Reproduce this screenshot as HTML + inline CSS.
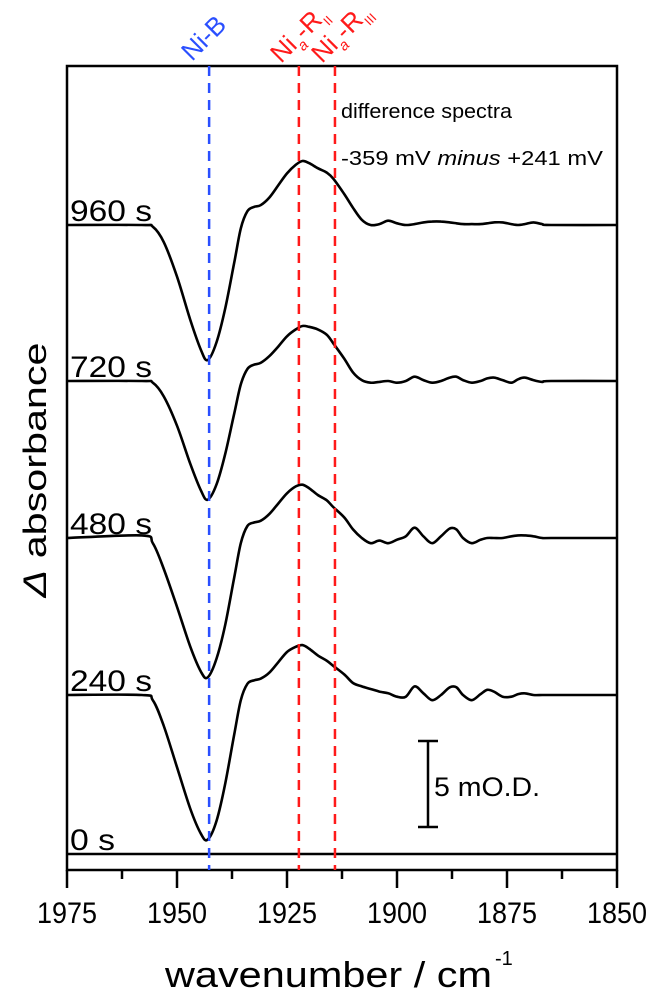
<!DOCTYPE html>
<html><head><meta charset="utf-8"><style>
body{margin:0;background:#fff}
svg{display:block;font-family:"Liberation Sans",sans-serif}
</style></head><body>
<svg id="c" width="655" height="997" viewBox="0 0 655 997">
<rect x="67" y="66" width="550" height="804" fill="none" stroke="#000" stroke-width="2.5"/>
<g id="marks"></g>
<g id="axes"></g>
<text x="70" y="221" font-size="30" textLength="82" lengthAdjust="spacingAndGlyphs">960 s</text>
<text x="70" y="377" font-size="30" textLength="82" lengthAdjust="spacingAndGlyphs">720 s</text>
<text x="70" y="534" font-size="30" textLength="82" lengthAdjust="spacingAndGlyphs">480 s</text>
<text x="70" y="691" font-size="30" textLength="82" lengthAdjust="spacingAndGlyphs">240 s</text>
<text x="70" y="850" font-size="30" textLength="45" lengthAdjust="spacingAndGlyphs">0 s</text>
<text x="341" y="118" font-size="20" textLength="171" lengthAdjust="spacingAndGlyphs">difference spectra</text>
<text x="341" y="165" font-size="20" textLength="262" lengthAdjust="spacingAndGlyphs">-359 mV <tspan font-style="italic">minus</tspan> +241 mV</text>
<g>
<line x1="428" y1="741" x2="428" y2="827" stroke="#000" stroke-width="2.5"/>
<line x1="418" y1="741" x2="438" y2="741" stroke="#000" stroke-width="2.5"/>
<line x1="418" y1="827" x2="438" y2="827" stroke="#000" stroke-width="2.5"/>
<text x="434" y="796" font-size="27" textLength="106" lengthAdjust="spacingAndGlyphs">5 mO.D.</text>
</g>
<text transform="translate(192,62) rotate(-45)" font-size="26" fill="#2a4fff">Ni-B</text>
<text transform="translate(281,64) rotate(-45)" font-size="26" fill="#ff1a1a">Ni<tspan font-size="15" dy="7" font-style="italic">a</tspan><tspan dy="-7">-R</tspan><tspan font-size="13" dy="7">II</tspan></text>
<text transform="translate(322,64) rotate(-45)" font-size="26" fill="#ff1a1a">Ni<tspan font-size="15" dy="7" font-style="italic">a</tspan><tspan dy="-7">-R</tspan><tspan font-size="13" dy="7">III</tspan></text>
<text transform="translate(46,470) rotate(-90)" text-anchor="middle" font-size="32" textLength="255" lengthAdjust="spacingAndGlyphs"><tspan font-style="italic">Δ</tspan> absorbance</text>
<text x="165" y="987" font-size="36" textLength="327" lengthAdjust="spacingAndGlyphs">wavenumber / cm</text>
<text x="495" y="965" font-size="20">-1</text>
</svg>
<script>
const wn = [1975,1958,1955.5,1953,1950,1947,1944.5,1943,1941,1939,1937,1935.5,1934,1932.5,1931,1929,1927,1925,1923,1921.5,1920,1918,1916,1914.5,1912,1910,1908,1906,1904,1902,1900,1898,1896,1894,1892,1890,1888,1886.5,1885,1883,1881,1879.5,1878,1876,1874,1872.5,1871,1869,1867,1865,1850];
const s960 = [0,0,-0.1,-1.0,-3.0,-5.5,-7.3,-7.85,-6.8,-4.8,-2.2,-0.2,0.8,1.05,1.15,1.6,2.3,3.0,3.5,3.72,3.6,3.3,3.05,2.7,1.8,1.0,0.3,0,0.05,0.25,0.1,0,0.05,0.15,0.2,0.2,0.15,0.1,0.05,0.05,0.05,0.1,0.15,0.15,0.05,0,0.05,0.15,0.05,0,0];
const s720 = [0,0,-0.1,-0.9,-2.6,-4.8,-6.4,-6.9,-6.0,-4.2,-1.9,-0.2,0.7,0.95,1.05,1.45,2.0,2.6,3.0,3.2,3.15,3.0,2.7,2.2,1.3,0.5,0.05,-0.1,-0.05,0,-0.1,0,0.25,0.05,-0.1,0,0.2,0.25,0.05,-0.1,0,0.15,0.2,0.05,-0.1,0.1,0.2,0.05,-0.05,0,0];
const s480 = [0,0.15,-0.3,-1.8,-4.0,-6.3,-7.8,-8.1,-7.0,-5.0,-2.3,-0.3,0.7,0.9,1.0,1.4,2.0,2.6,3.0,3.1,2.9,2.5,2.2,1.8,1.2,0.5,0,-0.3,-0.15,-0.3,-0.1,0.1,0.6,0.1,-0.3,0.1,0.55,0.5,0,-0.3,-0.1,0,0,0,0.1,0.15,0.15,0.1,0,0,0];
const s240 = [0,0,-0.3,-1.8,-4.2,-6.6,-8.1,-8.4,-7.3,-5.1,-2.3,-0.3,0.65,0.85,0.95,1.3,1.9,2.5,2.8,2.9,2.7,2.3,2.0,1.7,1.2,0.7,0.5,0.35,0.2,0.1,-0.1,-0.1,0.5,0.1,-0.3,0,0.45,0.45,0,-0.3,0.05,0.3,0.2,-0.1,-0.1,0.05,0.1,0,0,0,0];
const s0 = wn.map(()=>0);
const series = [s960, s720, s480, s240, s0];
const seriesNames = ['960s','720s','480s','240s','0s'];
const baselines = [225, 381, 538, 695, 854];
const markers = [1942.7, 1922.3, 1914.1];
const markerColors = ['#2a4fff','#ff1a1a','#ff1a1a'];
const xTicks = [1975,1950,1925,1900,1875,1850];
const xMinor = [1962.5,1937.5,1912.5,1887.5,1862.5];

const X = v => 67 + (1975 - v) * 550 / 125;
const PX_PER_MOD = 17.2;
const NS = 'http://www.w3.org/2000/svg';
const marks = document.getElementById('marks');
const axes = document.getElementById('axes');

function smoothPath(pts){
  let d = 'M' + pts[0][0] + ',' + pts[0][1];
  for (let i=0;i<pts.length-1;i++){
    const p0=pts[Math.max(i-1,0)],p1=pts[i],p2=pts[i+1],p3=pts[Math.min(i+2,pts.length-1)];
    const c1x=p1[0]+(p2[0]-p0[0])/6,c1y=p1[1]+(p2[1]-p0[1])/6;
    const c2x=p2[0]-(p3[0]-p1[0])/6,c2y=p2[1]-(p3[1]-p1[1])/6;
    d+=' C'+c1x.toFixed(1)+','+c1y.toFixed(1)+' '+c2x.toFixed(1)+','+c2y.toFixed(1)+' '+p2[0].toFixed(1)+','+p2[1].toFixed(1);
  }
  return d;
}

series.forEach((s, k) => {
  const pts = wn.map((w,i)=>[X(w), baselines[k] - s[i]*PX_PER_MOD]);
  const p = document.createElementNS(NS,'path');
  p.setAttribute('d', smoothPath(pts));
  p.setAttribute('fill','none');
  p.setAttribute('stroke','#000');
  p.setAttribute('stroke-width','2.6');
  
  
  marks.appendChild(p);
});

markers.forEach((m,i)=>{
  const l = document.createElementNS(NS,'line');
  l.setAttribute('x1',X(m)); l.setAttribute('x2',X(m));
  l.setAttribute('y1',66); l.setAttribute('y2',870);
  l.setAttribute('stroke',markerColors[i]);
  l.setAttribute('stroke-width','2.5');
  l.setAttribute('stroke-dasharray','10,7');
  
  
  marks.appendChild(l);
});

xTicks.forEach(t=>{
  const l = document.createElementNS(NS,'line');
  l.setAttribute('x1',X(t)); l.setAttribute('x2',X(t));
  l.setAttribute('y1',870); l.setAttribute('y2',888);
  l.setAttribute('stroke','#000'); l.setAttribute('stroke-width','2.5');
  
  
  axes.appendChild(l);
  const tx = document.createElementNS(NS,'text');
  tx.setAttribute('x',X(t)-30); tx.setAttribute('y',923);
  tx.setAttribute('font-size','30');
  tx.setAttribute('textLength','60');
  tx.setAttribute('lengthAdjust','spacingAndGlyphs');
  tx.textContent = t;
  
  
  axes.appendChild(tx);
});
xMinor.forEach(t=>{
  const l = document.createElementNS(NS,'line');
  l.setAttribute('x1',X(t)); l.setAttribute('x2',X(t));
  l.setAttribute('y1',870); l.setAttribute('y2',879);
  l.setAttribute('stroke','#000'); l.setAttribute('stroke-width','2.5');
  
  
  axes.appendChild(l);
});
</script>
</body></html>
